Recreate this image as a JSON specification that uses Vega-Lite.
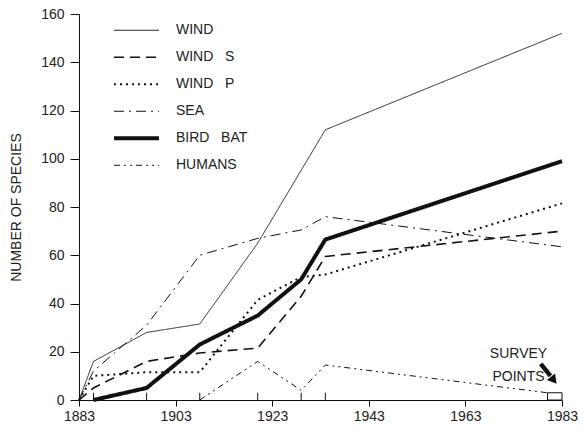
{
  "$schema": "https://vega.github.io/schema/vega-lite/v6.json",
  "width": 483,
  "height": 386,
  "autosize": {"type": "none"},
  "padding": {"left": 79, "top": 14, "right": 21, "bottom": 35},
  "background": "white",
  "config": {
    "view": {"stroke": null},
    "font": "Liberation Sans",
    "axis": {"grid": false, "domainColor": "#111", "tickColor": "#111", "labelColor": "#222", "labelFontSize": 14, "labelFont": "Liberation Sans", "titleFont": "Liberation Sans", "titleFontWeight": "normal", "titleFontSize": 14, "titleColor": "#222"}
  },
  "datasets": {
    "species": [
      {"series": "WIND", "year": 1883, "value": 0},
      {"series": "WIND", "year": 1886, "value": 16},
      {"series": "WIND", "year": 1897, "value": 28},
      {"series": "WIND", "year": 1908, "value": 31.5},
      {"series": "WIND", "year": 1920, "value": 65},
      {"series": "WIND", "year": 1934, "value": 112},
      {"series": "WIND", "year": 1983, "value": 152},
      {"series": "WIND S", "year": 1883, "value": 0},
      {"series": "WIND S", "year": 1886, "value": 5},
      {"series": "WIND S", "year": 1897, "value": 16},
      {"series": "WIND S", "year": 1908, "value": 19.5},
      {"series": "WIND S", "year": 1920, "value": 21.5},
      {"series": "WIND S", "year": 1929, "value": 43},
      {"series": "WIND S", "year": 1934, "value": 59.5},
      {"series": "WIND S", "year": 1983, "value": 70},
      {"series": "WIND P", "year": 1883, "value": 0},
      {"series": "WIND P", "year": 1886, "value": 10},
      {"series": "WIND P", "year": 1897, "value": 11.5},
      {"series": "WIND P", "year": 1908, "value": 11.5},
      {"series": "WIND P", "year": 1920, "value": 41.5},
      {"series": "WIND P", "year": 1929, "value": 51},
      {"series": "WIND P", "year": 1934, "value": 52},
      {"series": "WIND P", "year": 1983, "value": 81.5},
      {"series": "SEA", "year": 1883, "value": 0},
      {"series": "SEA", "year": 1886, "value": 12},
      {"series": "SEA", "year": 1897, "value": 31},
      {"series": "SEA", "year": 1908, "value": 60},
      {"series": "SEA", "year": 1920, "value": 67},
      {"series": "SEA", "year": 1929, "value": 70.5},
      {"series": "SEA", "year": 1934, "value": 76},
      {"series": "SEA", "year": 1983, "value": 63.5},
      {"series": "BIRD BAT", "year": 1886, "value": 0},
      {"series": "BIRD BAT", "year": 1897, "value": 5},
      {"series": "BIRD BAT", "year": 1908, "value": 23},
      {"series": "BIRD BAT", "year": 1920, "value": 35},
      {"series": "BIRD BAT", "year": 1929, "value": 50},
      {"series": "BIRD BAT", "year": 1934, "value": 66.5},
      {"series": "BIRD BAT", "year": 1983, "value": 99},
      {"series": "HUMANS", "year": 1908, "value": 0},
      {"series": "HUMANS", "year": 1920, "value": 16},
      {"series": "HUMANS", "year": 1929, "value": 4},
      {"series": "HUMANS", "year": 1934, "value": 14.5},
      {"series": "HUMANS", "year": 1980, "value": 3}
    ],
    "surveys": [
      {"year": 1886}, {"year": 1897}, {"year": 1908}, {"year": 1920}, {"year": 1929}, {"year": 1934}
    ],
    "notes": [
      {"year": 1974, "value": 19, "label": "SURVEY"},
      {"year": 1974, "value": 9.5, "label": "POINTS"}
    ]
  },
  "layer": [
    {
      "data": {"name": "species"},
      "mark": {"type": "line", "color": "#111", "strokeCap": "butt", "strokeJoin": "miter", "clip": false},
      "encoding": {
        "x": {"field": "year", "type": "quantitative", "scale": {"domain": [1883, 1983], "nice": false, "zero": false},
          "axis": {"title": null, "values": [1883, 1903, 1923, 1943, 1963, 1983], "format": "d", "tickSize": 6, "labelPadding": 3, "labelFlush": false, "labelOverlap": false, "labelBound": false}},
        "y": {"field": "value", "type": "quantitative", "scale": {"domain": [0, 160], "nice": false},
          "axis": {"title": "NUMBER OF SPECIES", "values": [0, 20, 40, 60, 80, 100, 120, 140, 160], "tickSize": 9, "labelPadding": 6, "titlePadding": 17}},
        "strokeDash": {"field": "series", "type": "nominal",
          "scale": {"domain": ["WIND", "WIND S", "WIND P", "SEA", "BIRD BAT", "HUMANS"],
            "range": [[1, 0], [10, 6], [2, 4], [10, 5, 2, 5], [1, 0], [6, 4, 2, 4, 2, 4]]},
          "legend": {"title": null, "orient": "none", "legendX": 33, "legendY": 3, "symbolType": "stroke", "symbolSize": 2025, "symbolStrokeColor": "#111", "labelFontSize": 14, "labelFont": "Liberation Sans", "labelColor": "#222", "labelOffset": 15, "rowPadding": 0, "clipHeight": 26.5, "labelExpr": "replace(datum.label, ' ', '\u00a0\u00a0\u00a0')"}},
        "strokeWidth": {"field": "series", "type": "nominal",
          "scale": {"type": "ordinal", "domain": ["WIND", "WIND S", "WIND P", "SEA", "BIRD BAT", "HUMANS"], "range": [0.9, 1.6, 2, 1, 4, 1]},
          "legend": {"title": null, "orient": "none", "legendX": 33, "legendY": 3, "symbolType": "stroke", "symbolSize": 2025, "symbolStrokeColor": "#111", "labelFontSize": 14, "labelFont": "Liberation Sans", "labelColor": "#222", "labelOffset": 15, "rowPadding": 0, "clipHeight": 26.5, "labelExpr": "replace(datum.label, ' ', '\u00a0\u00a0\u00a0')"}}
      }
    },
    {
      "data": {"name": "surveys"},
      "mark": {"type": "rule", "color": "#111", "strokeWidth": 1},
      "encoding": {"x": {"field": "year", "type": "quantitative"}, "y": {"datum": 0}, "y2": {"datum": 3}}
    },
    {
      "data": {"values": [{"start": 1980, "end": 1983}]},
      "mark": {"type": "rect", "fill": "white", "stroke": "#111", "strokeWidth": 1},
      "encoding": {"x": {"field": "start", "type": "quantitative"}, "x2": {"field": "end"}, "y": {"datum": 0}, "y2": {"datum": 3}}
    },
    {
      "data": {"name": "notes"},
      "mark": {"type": "text", "fontSize": 14, "font": "Liberation Sans", "color": "#222", "align": "center", "baseline": "middle"},
      "encoding": {"x": {"field": "year", "type": "quantitative"}, "y": {"field": "value", "type": "quantitative"}, "text": {"field": "label"}}
    },
    {
      "data": {"values": [{"x1": 1978.6, "y1": 15, "x2": 1980.6, "y2": 10}]},
      "mark": {"type": "rule", "color": "#111", "strokeWidth": 4.5},
      "encoding": {"x": {"field": "x1", "type": "quantitative"}, "y": {"field": "y1", "type": "quantitative"}, "x2": {"field": "x2"}, "y2": {"field": "y2"}}
    },
    {
      "data": {"values": [{"x": 1981.3, "y": 8.2}]},
      "mark": {"type": "point", "shape": "triangle-up", "filled": true, "color": "#111", "size": 110, "angle": 141, "opacity": 1},
      "encoding": {"x": {"field": "x", "type": "quantitative"}, "y": {"field": "y", "type": "quantitative"}}
    }
  ]
}
